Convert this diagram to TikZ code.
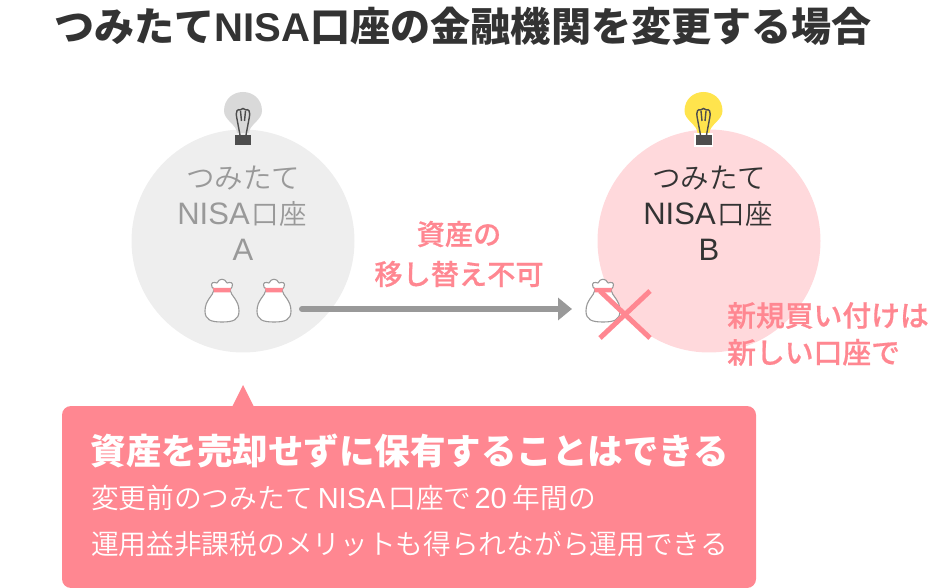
\documentclass[tikz,border=0pt]{standalone}
\usepackage{xcolor}
\usepackage{fontspec}
\setmainfont{Noto Sans CJK JP}
\newfontfamily\latinfont{Liberation Sans}
\newfontfamily\jpmedium{Noto Sans CJK JP Medium}[FakeBold=0.6]
\newfontfamily\jplight{Noto Sans CJK JP DemiLight}
\usepackage{tikz}
\usetikzlibrary{arrows.meta,positioning}
\definecolor{rose}{HTML}{FF8791}
\definecolor{rose-light}{HTML}{FFD9DC}
\definecolor{gray-light}{HTML}{EEEEEE}
\definecolor{gray-text}{HTML}{999999}
\definecolor{dark-text}{HTML}{333333}
\definecolor{bag-line}{HTML}{999999}
\definecolor{bulb-yellow}{HTML}{FFE44D}
\definecolor{bulb-gray}{HTML}{D9D9D9}
\definecolor{bulb-dark}{HTML}{4D4D4D}
\newcommand{\fsize}[1]{\fontsize{#1}{#1}\selectfont}
\newcommand{\nisa}{{\latinfont\fsize{31}NISA}\hspace{2pt}{\fsize{27.5}口座}}
\tikzset{
  every picture/.style = {
    x = 1pt,
    y = -1pt,
  }
  ,
  account/.style = {
    circle,
    minimum size = 223pt,
    inner sep = 0pt
  }
  , % labels inside the circles
  label-account/.style = {
    align = center,
    font = \jplight\fsize{28.5},
    text height = 26pt,
    text depth = 6pt,
    inner sep = 0pt
  }
  , % pink labels
  label-rose/.style = {
    align = center,
    text = rose,
    font = \jpmedium\fontsize{28.2}{40}\selectfont,
    inner sep = 0pt
  }
  ,
  callout/.style = {
    fill = rose,
    rounded corners = 9pt,
    minimum width = 694pt,
    minimum height = 182pt,
    inner sep = 0pt
  }
  ,
  moneybag/.pic = {
    \draw[bag-line, line width = 1.1pt, fill = white, line join = round]
      (-8,-11) -- (-10,-13) .. controls (-12,-18) and (-8,-18) .. (-5,-17)
      .. controls (-3,-22) and (3,-22) .. (5,-17)
      .. controls (8,-18) and (12,-18) .. (10,-13) -- (8,-10)
      .. controls (9,-4) and (17,0) .. (17,11)
      .. controls (17,20) and (11,22) .. (0,22)
      .. controls (-11,22) and (-17,20) .. (-17,11)
      .. controls (-17,0) and (-9,-4) .. (-8,-10) -- cycle;
    \fill[rose] (-9,-12) -- (9,-12) -- (8,-7.5) -- (-8,-7.5) -- cycle;
  }
  ,
  bulb/.pic = {
    \fill[pic actions]
      (-6,22) .. controls (-6,14) and (-19,9) .. (-19,0)
      .. controls (-19,-12) and (-10,-19) .. (0,-19)
      .. controls (10,-19) and (19,-12) .. (19,0)
      .. controls (19,9) and (6,14) .. (6,22) -- cycle;
    \draw[bulb-dark, line width = 1.4pt]
      (-3,24) -- (-6,8) .. controls (-8,-1) and (-5,-2) .. (-3,-1)
      .. controls (-1,-3) and (1,-3) .. (3,-1)
      .. controls (5,-2) and (8,-1) .. (6,8) -- (3,24);
    \draw[bulb-dark, line width = 1.4pt] (-1.5,10) -- (-2.5,0) (1.5,10) -- (2.5,0);
    \fill[bulb-dark] (-8,24) rectangle (8,34);
  }
}
\begin{document}
\begin{tikzpicture}
\useasboundingbox (0,0) rectangle (930,588);

\node[text = dark-text, inner sep = 0pt, font = \fsize{40.1}\bfseries] (title) at (463,26) {つみたて{\latinfont NISA}口座の金融機関を変更する場合};

% account A
\node[account, fill = gray-light] (a) at (243,241) {};
\pic[fill = bulb-gray] (bulb-a) at (243,111) {bulb};
\node[label-account, text = gray-text] (a-1) at (243,179) {つみたて};
\node[label-account, text = gray-text] (a-2) at (242,215) {\nisa};
\node[label-account, text = gray-text] (a-3) at (243,251) {\latinfont\fsize{31}A};
\pic (bag-1) at (222,300) {moneybag};
\pic (bag-2) at (274,300) {moneybag};

% account B
\node[account, fill = rose-light] (b) at (709,241) {};
\fill[white] (694,133) rectangle (713,147);
\pic[fill = bulb-yellow] (bulb-b) at (703.5,111) {bulb};
\node[label-account, text = dark-text] (b-1) at (709,179) {つみたて};
\node[label-account, text = dark-text] (b-2) at (708,215) {\nisa};
\node[label-account, text = dark-text] (b-3) at (709,251) {\latinfont\fsize{31}B};
\pic (bag-3) at (603,300) {moneybag};

% moving the assets
\coordinate (move-from) at (302,309);
\coordinate (move-to) at (572,309);
\draw[-{Triangle[length=14pt,width=22pt]}, line cap = round, line width = 6pt, gray-text] (move-from) -- (move-to);
\node[label-rose] (move-label) at (459,254) {資産の\\移し替え不可};

% cross
\draw[rose, line width = 5pt] (600,338) -- (650,291);
\draw[rose, line width = 5pt] (600,291) -- (650,338);

\node[label-rose, align = left, anchor = west, font = \jpmedium\fontsize{28.8}{37}\selectfont] (new-label) at (727,334) {新規買い付けは\\新しい口座で};

% callout
\node[callout] (note) at (409,497) {};
\fill[rose] (243,385) -- (232,407) -- (254,407) -- cycle;
\node[inner sep = 0pt, text = white, font = \fsize{35.5}\bfseries] (note-1) at (410,451) {資産を売却せずに保有することはできる};
\node[inner sep = 0pt, text = white, font = \jplight\fsize{27.7}, anchor = west] (note-2) at (91,498) {変更前のつみたて\hspace{5pt}{\latinfont\fsize{29}NISA}\hspace{3pt}口座で\hspace{3pt}{\latinfont\fsize{29}20}\hspace{6pt}年間の};
\node[inner sep = 0pt, text = white, font = \jplight\fsize{27.7}, anchor = west] (note-3) at (91,544) {運用益非課税のメリットも得られながら運用できる};
\end{tikzpicture}
\end{document}
